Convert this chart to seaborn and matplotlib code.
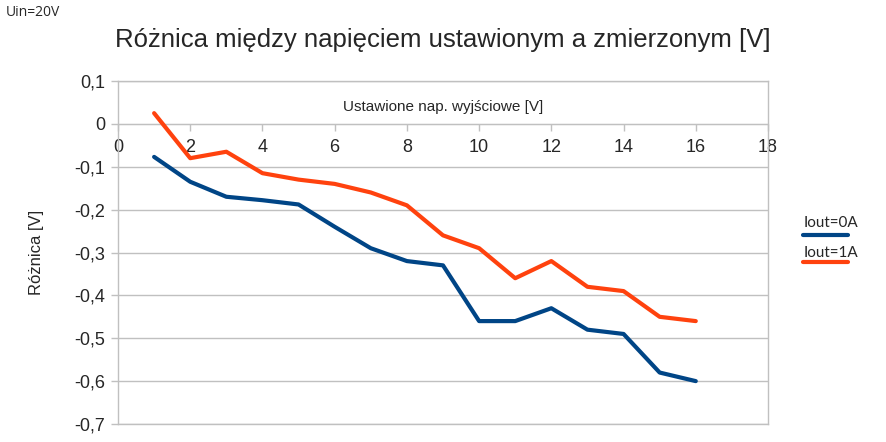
import pandas as pd
import matplotlib
matplotlib.use("Agg")
import matplotlib.pyplot as plt
import seaborn as sns
from matplotlib.lines import Line2D

# === data ===
set_voltage = list(range(1, 17))
diff_0a = [-0.077, -0.135, -0.17, -0.178, -0.188, -0.24, -0.29, -0.32,
           -0.33, -0.46, -0.46, -0.43, -0.48, -0.49, -0.58, -0.60]
diff_1a = [0.025, -0.08, -0.065, -0.115, -0.13, -0.14, -0.16, -0.19,
           -0.26, -0.29, -0.36, -0.32, -0.38, -0.39, -0.45, -0.46]
series_names = ["Iout=0A", "Iout=1A"]
series_colors = ["#004586", "#ff420e"]

xticks = [0, 2, 4, 6, 8, 10, 12, 14, 16, 18]
yticks = [-0.7, -0.6, -0.5, -0.4, -0.3, -0.2, -0.1, 0.0, 0.1]
ytick_labels = ["-0,7", "-0,6", "-0,5", "-0,4", "-0,3", "-0,2", "-0,1", "0", "0,1"]

df = pd.DataFrame({
    "x": set_voltage * 2,
    "y": diff_0a + diff_1a,
    "series": [series_names[0]] * len(diff_0a) + [series_names[1]] * len(diff_1a),
})

sns.set_style("white")
plt.rcParams["font.family"] = ["Liberation Sans", "DejaVu Sans"]

fig = plt.figure(figsize=(8.86, 4.42), dpi=100)
ax = fig.add_axes([118 / 886, 1 - 424 / 442, 650 / 886, 343 / 442])

sns.lineplot(data=df, x="x", y="y", hue="series", palette=series_colors,
             linewidth=3.0, legend=False, ax=ax)

grid_c = "#c0c0c0"
ax.set_xlim(0, 18)
ax.set_ylim(-0.7, 0.1)
ax.set_yticks(yticks)
ax.set_yticklabels(ytick_labels)
ax.yaxis.grid(True, color=grid_c, linewidth=1.0)
ax.set_axisbelow(True)
for s in ax.spines.values():
    s.set_color(grid_c)
    s.set_linewidth(1.0)
ax.tick_params(axis="y", direction="out", length=5, width=1, color=grid_c,
               labelsize=13, pad=4, left=True)
ax.tick_params(axis="x", bottom=False, labelbottom=False)
ax.set_xlabel("")
ax.set_ylabel("Różnica [V]", fontsize=12, labelpad=22)

# x axis drawn through y=0, ticks and labels below it, title above it
zero_pos = (0 - (-0.7)) / 0.8
sec = ax.secondary_xaxis(zero_pos)
sec.set_xticks(xticks)
sec.xaxis.set_ticks_position("bottom")
sec.tick_params(axis="x", direction="out", length=5, width=1, color=grid_c,
                labelsize=13, pad=6, bottom=True, top=False,
                labelbottom=True, labeltop=False)
for s in sec.spines.values():
    s.set_color(grid_c)
sec.set_xlabel("Ustawione nap. wyjściowe [V]", fontsize=11, labelpad=9)
sec.xaxis.set_label_position("top")

fig.text(443 / 886, 1 - 40 / 442, "Różnica między napięciem ustawionym a zmierzonym [V]",
         ha="center", va="center", fontsize=18.5)
fig.text(6 / 886, 1 - 13 / 442, "Uin=20V", ha="left", va="center",
         fontsize=10, family=["Open Sans", "DejaVu Sans"])

# legend: label above a short line
for i, (name, col) in enumerate(zip(series_names, series_colors)):
    ty = 223 + 30 * i
    ly = 235 + 27 * i
    fig.text(804 / 886, 1 - ty / 442, name, ha="left", va="center",
             fontsize=11, family=["Lato", "DejaVu Sans"])
    fig.add_artist(Line2D([803 / 886, 848 / 886], [1 - ly / 442, 1 - ly / 442],
                          color=col, linewidth=3.0, transform=fig.transFigure))

fig.savefig("out.png", dpi=100)
